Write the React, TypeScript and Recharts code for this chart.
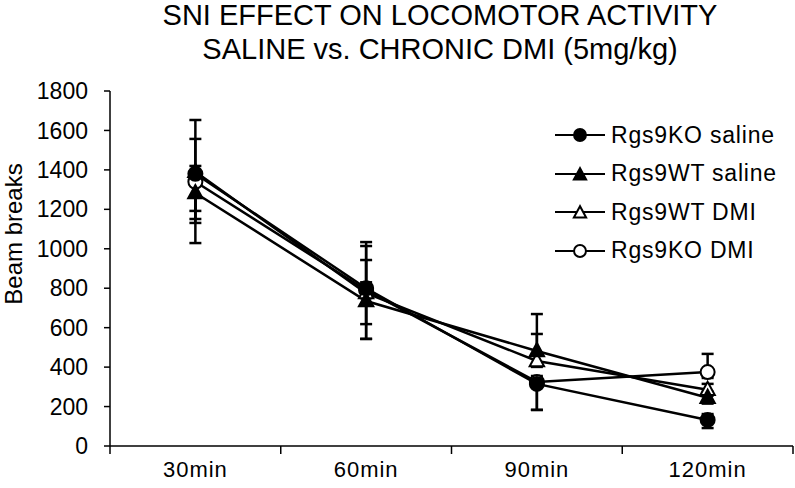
import React from 'react';
import { LineChart, Line, XAxis, YAxis, ErrorBar } from 'recharts';

const CATEGORIES = ['30min', '60min', '90min', '120min'];
const Y_TICKS = [0, 200, 400, 600, 800, 1000, 1200, 1400, 1600, 1800];

// means
const KO_SALINE = [1380, 800, 315, 132];
const WT_SALINE = [1283, 735, 482, 245];
const WT_DMI = [1390, 775, 431, 285];
const KO_DMI = [1340, 790, 325, 375];

// error bars as [minus, plus]
const KO_SALINE_ERR = [[249, 273], [257, 234], [132, 30], [41, 30]];
const WT_SALINE_ERR = [[254, 274], [192, 279], [20, 187], [30, 30]];
const WT_DMI_ERR = [[198, 30], [157, 168], [30, 137], [30, 30]];
const KO_DMI_ERR = [[189, 30], [40, 40], [142, 30], [30, 92]];

const W = 795;
const H = 488;
const M = { top: 91, right: 2, bottom: 0, left: 0 };
const Y_AXIS_W = 110;
const X_AXIS_H = 42;
const PLOT_W = W - M.left - M.right - Y_AXIS_W;
const HALF_STEP = PLOT_W / CATEGORIES.length / 2;

const FONT = '"Liberation Sans", Arial, sans-serif';

const SERIES = [
    { key: 'koSal', err: 'koSalErr', name: 'Rgs9KO saline', shape: 'circle', filled: true },
    { key: 'wtSal', err: 'wtSalErr', name: 'Rgs9WT saline', shape: 'triangle', filled: true },
    { key: 'wtDmi', err: 'wtDmiErr', name: 'Rgs9WT DMI', shape: 'triangle', filled: false },
    { key: 'koDmi', err: 'koDmiErr', name: 'Rgs9KO DMI', shape: 'circle', filled: false },
];

const data = CATEGORIES.map((c, i) => ({
    x: i + 0.5,
    label: c,
    koSal: KO_SALINE[i],
    wtSal: WT_SALINE[i],
    wtDmi: WT_DMI[i],
    koDmi: KO_DMI[i],
    koSalErr: KO_SALINE_ERR[i],
    wtSalErr: WT_SALINE_ERR[i],
    wtDmiErr: WT_DMI_ERR[i],
    koDmiErr: KO_DMI_ERR[i],
}));

function Marker({ cx, cy, shape, filled, size = 1 }: any) {
    const fill = filled ? '#000' : '#fff';
    if (shape === 'circle') {
        return <circle cx={cx} cy={cy} r={7 * size} fill={fill} stroke="#000" strokeWidth={2} />;
    }
    const s = 8 * size;
    const pts = `${cx},${cy - s} ${cx - s * 0.9},${cy + s * 0.65} ${cx + s * 0.9},${cy + s * 0.65}`;
    return <polygon points={pts} fill={fill} stroke="#000" strokeWidth={2} strokeLinejoin="miter" />;
}

// category labels sit between the boundary tick marks, like the Excel axis
const XTick = ({ x, y, index }: any) => {
    if (index >= CATEGORIES.length) return null;
    return (
        <text
            x={x + HALF_STEP}
            y={y}
            dy="0.76em"
            textAnchor="middle"
            fontSize={22}
            letterSpacing={1}
            fontFamily={FONT}
            fill="#000"
        >
            {CATEGORIES[index]}
        </text>
    );
};

const LegendBox = () => (
    <div style={{ position: 'absolute', left: 552, top: 116, fontFamily: FONT }}>
        {SERIES.map((s) => (
            <div key={s.key} style={{ display: 'flex', alignItems: 'center', height: 38.5 }}>
                <svg width={56} height={20}>
                    <line x1={3} y1={10} x2={53} y2={10} stroke="#000" strokeWidth={2} />
                    <Marker cx={28} cy={s.shape === 'triangle' ? 11 : 10} shape={s.shape} filled={s.filled} size={0.85} />
                </svg>
                <span style={{ fontSize: 23, letterSpacing: 0.8, color: '#000', marginLeft: 3 }}>{s.name}</span>
            </div>
        ))}
    </div>
);

export default function App() {
    // filled series drawn last so they sit on top, as in the original
    const drawOrder = [...SERIES].reverse();
    return (
        <div style={{ position: 'absolute', left: 0, top: 0, width: W, height: H, background: '#fff' }}>
            <LineChart width={W} height={H} data={data} margin={M}>
                <XAxis
                    dataKey="x"
                    type="number"
                    domain={[0, CATEGORIES.length]}
                    ticks={[0, 1, 2, 3, 4]}
                    interval={0}
                    height={X_AXIS_H}
                    tick={<XTick />}
                    tickSize={8}
                    tickMargin={6}
                    axisLine={{ stroke: '#000', strokeWidth: 1.5 }}
                    tickLine={{ stroke: '#000', strokeWidth: 1.5 }}
                />
                <YAxis
                    type="number"
                    domain={[0, 1800]}
                    ticks={Y_TICKS}
                    interval={0}
                    width={Y_AXIS_W}
                    tickSize={6}
                    tickMargin={16}
                    tick={{ fontSize: 23, fill: '#000', fontFamily: FONT }}
                    axisLine={{ stroke: '#000', strokeWidth: 1.5 }}
                    tickLine={{ stroke: '#000', strokeWidth: 1.5 }}
                />
                {drawOrder.map((s) => (
                    <Line
                        key={s.key}
                        dataKey={s.key}
                        name={s.name}
                        stroke="#000"
                        strokeWidth={2.5}
                        isAnimationActive={false}
                        dot={(p: any) => (
                            <Marker key={`${s.key}-${p.index}`} cx={p.cx} cy={p.cy} shape={s.shape} filled={s.filled} />
                        )}
                        activeDot={false}
                    >
                        <ErrorBar dataKey={s.err} direction="y" width={6} stroke="#000" strokeWidth={2.5} />
                    </Line>
                ))}
            </LineChart>
            <LegendBox />
            <svg
                width={W}
                height={H}
                style={{ position: 'absolute', left: 0, top: 0, pointerEvents: 'none' }}
            >
                <text x={440} y={25} textAnchor="middle" fontSize={29} fontFamily={FONT} fill="#000">
                    SNI EFFECT ON LOCOMOTOR ACTIVITY
                </text>
                <text x={440} y={59} textAnchor="middle" fontSize={29} fontFamily={FONT} fill="#000">
                    SALINE vs. CHRONIC DMI (5mg/kg)
                </text>
                <text
                    x={22}
                    y={234}
                    transform="rotate(-90, 22, 234)"
                    textAnchor="middle"
                    fontSize={24}
                    fontFamily={FONT}
                    fill="#000"
                >
                    Beam breaks
                </text>
            </svg>
        </div>
    );
}
